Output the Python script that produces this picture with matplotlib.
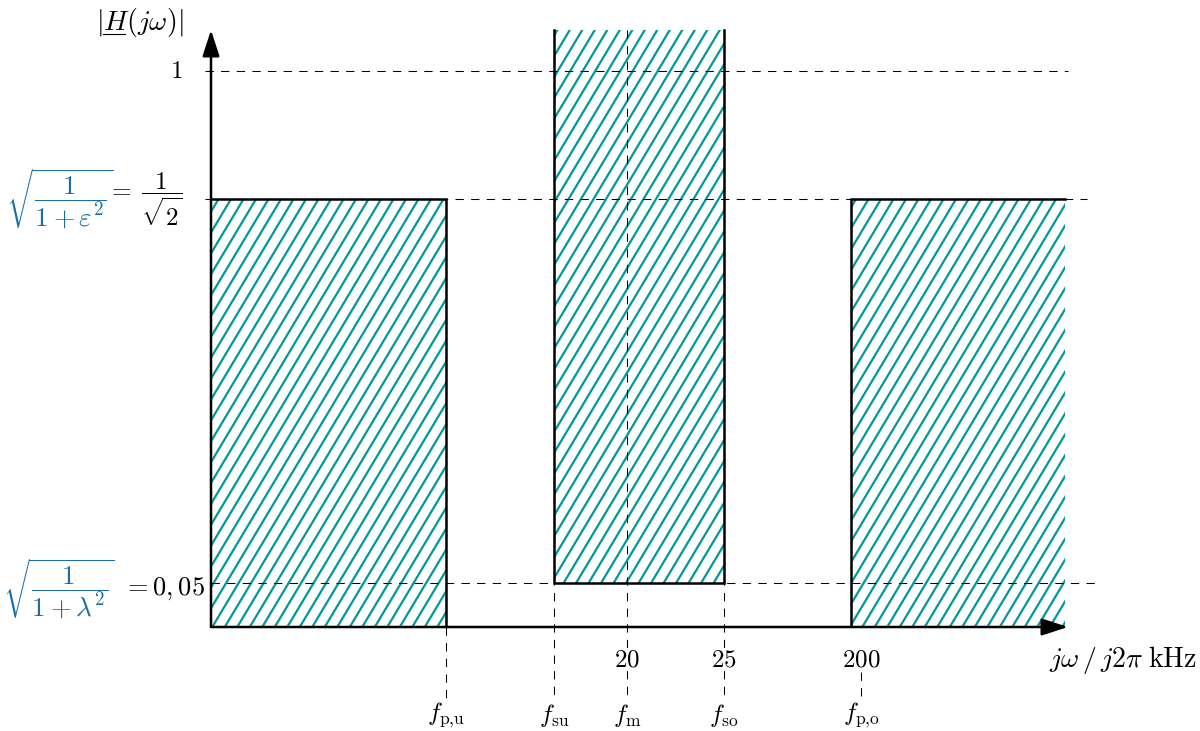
import numpy as np
import matplotlib
matplotlib.use("Agg")
import matplotlib.pyplot as plt
from matplotlib.patches import Rectangle
from matplotlib.collections import LineCollection
from matplotlib.transforms import IdentityTransform

plt.rcParams['mathtext.fontset'] = 'cm'
plt.rcParams['font.family'] = 'DejaVu Serif'

# magnitude levels and where they sit on the (schematic) vertical axis
mag_levels = [0.0, 0.05, 1 / np.sqrt(2), 1.0, 1.1]
mag_pos = [0, 44, 428, 556, 597]

a_pass = 1 / np.sqrt(2)   # 1/sqrt(1+eps^2)
a_stop = 0.05             # 1/sqrt(1+lambda^2)
a_top = 1.1

# schematic frequency axis (0..10)
f_pu = 2.742
f_su = 4.002
f_m = 4.854
f_so = 5.986
f_po_edge = 7.468
f_po = 7.585
f_end = 9.965

tick_pos = [f_m, f_so, f_po]
tick_labels = ['$20$', '$25$', '$200$']
f_names = [r'$f_{\text{p,u}}$', r'$f_{\text{su}}$', r'$f_{\text{m}}$',
           r'$f_{\text{so}}$', r'$f_{\text{p,o}}$']
f_name_pos = [f_pu, f_su, f_m, f_so, f_po]

teal = '#009999'
blue = '#1a6ea6'
fs = 18

fig = plt.figure(figsize=(12, 7.31), dpi=100)
ax = fig.add_axes([211 / 1200, 104 / 731, 857 / 1200, 597 / 731])

fwd = lambda v: np.interp(v, mag_levels, mag_pos)
inv = lambda p: np.interp(p, mag_pos, mag_levels)
ax.set_yscale('function', functions=(fwd, inv))
ax.set_xlim(0, 10)
ax.set_ylim(0, a_top)
ax.axis('off')

# hatched regions (tolerance scheme)
boxes = [
    Rectangle((0, 0), f_pu, a_pass),
    Rectangle((f_su, a_stop), f_so - f_su, a_top - a_stop),
    Rectangle((f_po_edge, 0), f_end - f_po_edge, a_pass),
]
slope = 1.67
segs = [[(c, 0), (c + 731 / slope, 731)] for c in np.arange(-600, 1300, 12.5)]
for r in boxes:
    r.set_facecolor('none')
    r.set_edgecolor('none')
    ax.add_patch(r)
    lc = LineCollection(segs, colors=teal, linewidths=1.6,
                        transform=IdentityTransform(), zorder=2)
    ax.add_collection(lc, autolim=False)
    lc.set_clip_path(r)

# dashed guide lines
dash = dict(color='k', lw=0.75, dashes=(8, 7), zorder=3, clip_on=False)
ax.plot([-0.07, 10.0], [1.0, 1.0], **dash)
ax.plot([-0.07, 10.22], [a_pass, a_pass], **dash)
ax.plot([0, 10.37], [a_stop, a_stop], **dash)
xt = ax.get_xaxis_transform()
for x in [f_su, f_m, f_so]:
    ax.plot([x, x], [1.0, -0.122], transform=xt, **dash)
ax.plot([f_pu, f_pu], [0, -0.122], transform=xt, **dash)
ax.plot([f_po, f_po], [-0.075, -0.122], transform=xt, **dash)

# band outlines
lw = 1.8
ax.plot([0, f_pu, f_pu], [a_pass, a_pass, 0], color='k', lw=lw, zorder=4,
        solid_joinstyle='miter')
ax.plot([f_su, f_su, f_so, f_so], [a_top, a_stop, a_stop, a_top], color='k',
        lw=lw, zorder=4, solid_joinstyle='miter', clip_on=False)
ax.plot([f_po_edge, f_po_edge, f_end], [0, a_pass, a_pass], color='k', lw=lw,
        zorder=4, solid_joinstyle='miter')

# axes arrows
arr = dict(arrowstyle='-|>,head_length=0.4,head_width=0.13', lw=lw, color='k',
           mutation_scale=40, shrinkA=0, shrinkB=0)
ax.annotate('', xy=(0, 1), xytext=(0, 0), xycoords='axes fraction',
            arrowprops=arr, zorder=5)
ax.annotate('', xy=(1, 0), xytext=(0, 0), xycoords='axes fraction',
            arrowprops=arr, zorder=5)

# y labels
yt = ax.get_yaxis_transform()
ax.text(-0.0327, 1.0, '$1$', transform=yt, ha='right', va='center', fontsize=fs)
ax.text(-0.0327, a_pass, r'${}=\;\dfrac{1}{\sqrt{2}}$', transform=yt, ha='right',
        va='center', fontsize=fs)
ax.text(-0.114, a_pass, r'$\sqrt{\dfrac{1}{1+\varepsilon^2}}$', transform=yt,
        ha='right', va='center', fontsize=fs + 1.5, color=blue)
ax.text(-0.007, a_stop - 0.006, r'$=0,05$', transform=yt, ha='right', va='center',
        fontsize=fs + 1)
ax.text(-0.112, a_stop - 0.006, r'$\sqrt{\dfrac{1}{1+\lambda^2}}$', transform=yt,
        ha='right', va='center', fontsize=fs + 1.5, color=blue)

# x labels
for x, lab in zip(tick_pos, tick_labels):
    ax.text(x, -0.055, lab, transform=xt, ha='center', va='center', fontsize=fs,
            bbox=dict(facecolor='white', edgecolor='none', pad=0))
for x, lab in zip(f_name_pos, f_names):
    ax.text(x, -0.148, lab, transform=xt, ha='center', va='center', fontsize=fs)
ax.text(1.0645, -0.055, r'$j\omega\,/\,j2\pi\;\mathrm{kHz}$', transform=ax.transAxes,
        ha='center', va='center', fontsize=fs + 2)

ylab = ax.text(-0.083, 1.013, r'$|H(j\omega)|$', transform=ax.transAxes,
               ha='center', va='center', fontsize=fs + 2)
fig.canvas.draw()
bb = ylab.get_window_extent()
ux0 = bb.x0 + 0.08 * bb.width
ux1 = bb.x0 + 0.33 * bb.width
uy = bb.y0 + 0.14 * bb.height
fig.add_artist(plt.Line2D([ux0, ux1], [uy, uy], transform=IdentityTransform(),
                          color='k', lw=0.8))

fig.savefig('out.png', dpi=100)
